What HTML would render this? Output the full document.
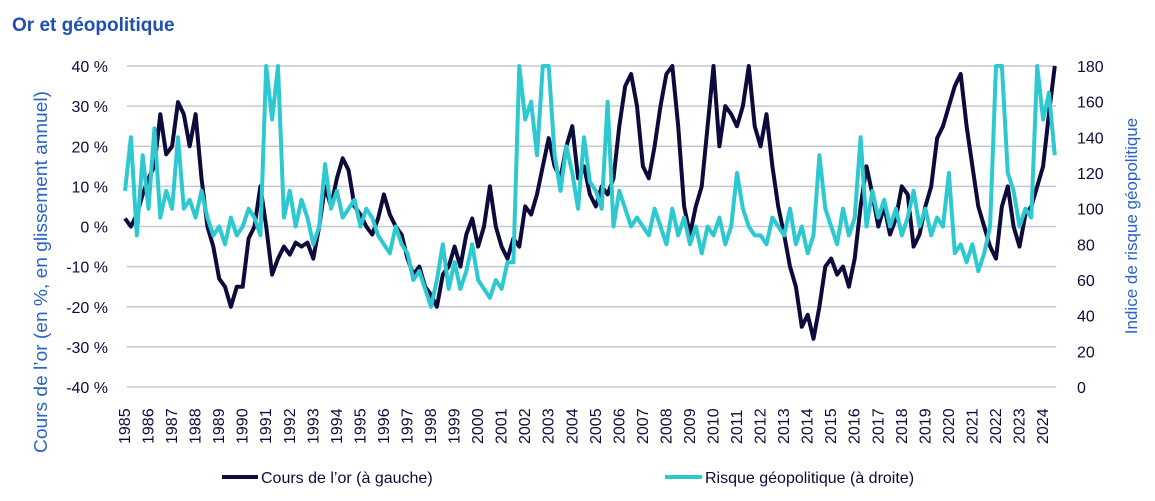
<!DOCTYPE html>
<html><head><meta charset="utf-8"><style>
body{margin:0;background:#fff;width:1155px;height:496px;overflow:hidden;font-family:"Liberation Sans",sans-serif}
svg text{font-family:"Liberation Sans",sans-serif}
</style></head><body>
<svg width="1155" height="496">
<text x="12" y="31" font-size="19" font-weight="bold" fill="#1f4fb4">Or et géopolitique</text>
<g id="grid"></g><g id="series"></g><g id="labels"></g>
<text transform="translate(47,272) rotate(-90)" text-anchor="middle" font-size="18" textLength="362" lengthAdjust="spacingAndGlyphs" fill="#2a62c8">Cours de l’or (en %, en glissement annuel)</text>
<text transform="translate(1137,226) rotate(-90)" text-anchor="middle" font-size="17" fill="#2a62c8">Indice de risque géopolitique</text>
<g><line x1="222" y1="477" x2="258" y2="477" stroke="#0c0b3b" stroke-width="4"/><text x="261" y="483" font-size="16" fill="#0c0b3b">Cours de l’or (à gauche)</text></g>
<g><line x1="665" y1="477" x2="702" y2="477" stroke="#2ec9d0" stroke-width="4"/><text x="705" y="483" font-size="16" fill="#0c0b3b">Risque géopolitique (à droite)</text></g>
</svg>
<script>
const leftTicks=[40,30,20,10,0,-10,-20,-30,-40];
const rightTicks=[0,20,40,60,80,100,120,140,160,180];
const years=[];for(let y=1985;y<=2024;y++)years.push(y);
const gold=[2,0,3,8, 12,15,28,18, 20,31,28,20, 28,12,0,-5, -13,-15,-20,-15, -15,-3,0,10, 0,-12,-8,-5, -7,-4,-5,-4, -8,0,10,5, 12,17,14,5, 3,0,-2,2, 8,3,0,-2, -8,-12,-10,-15, -17,-20,-12,-10, -5,-10,-2,2, -5,0,10,0, -5,-8,-3,-5, 5,3,8,15, 22,15,12,20, 25,12,15,8, 5,10,8,12, 25,35,38,30, 15,12,20,30, 38,40,25,5, -2,5,10,25, 40,20,30,28, 25,30,40,25, 20,28,15,5, -2,-10,-15,-25, -22,-28,-20,-10, -8,-12,-10,-15, -8,5,15,8, 0,5,-2,2, 10,8,-5,-2, 5,10,22,25, 30,35,38,25, 15,5,0,-5, -8,5,10,0, -5,3,5,10, 15,28,40];
const gpr=[110,140,85,130, 100,145,95,110, 100,140,100,105, 95,110,95,85, 90,80,95,85, 90,100,95,85, 200,150,200,95, 110,90,105,95, 80,90,125,100, 110,95,100,105, 90,100,95,85, 80,75,90,80, 75,60,65,55, 45,60,80,55, 70,55,65,80, 60,55,50,60, 55,70,70,200, 150,160,130,180, 200,130,110,135, 120,100,140,115, 110,100,160,90, 110,100,90,95, 90,85,100,90, 80,100,85,95, 80,90,75,90, 85,95,80,90, 120,100,90,85, 85,80,95,90, 85,100,80,90, 75,85,130,100, 90,80,100,85, 95,140,90,110, 95,105,90,100, 85,95,110,90, 100,85,95,90, 120,75,80,70, 80,65,75,90, 200,180,120,110, 90,100,95,180, 150,165,130];
const NS='http://www.w3.org/2000/svg';
const X0=127,X1=1056,YT=66,YB=387;
const xDate=d=>125+(d-1985)*23.54;
const yL=v=>YT+(40-Math.max(-40,Math.min(40,v)))/80*(YB-YT);
const yR=v=>YB-Math.max(0,Math.min(180,v))/180*(YB-YT);
const grid=document.getElementById('grid'),lab=document.getElementById('labels'),ser=document.getElementById('series');
function mk(t,a,p){const e=document.createElementNS(NS,t);for(const k in a)e.setAttribute(k,a[k]);p.appendChild(e);return e;}
leftTicks.forEach(v=>{
 const l=mk('line',{x1:X0,x2:X1,y1:yL(v),y2:yL(v),stroke:'#c3cad3','stroke-width':1.5},grid);
 
 
 const t=mk('text',{x:108,y:yL(v)+6,'text-anchor':'end','font-size':16,fill:'#0c0b3b'},lab);t.textContent=v+' %';
 
 
});
rightTicks.forEach(v=>{
 const t=mk('text',{x:1077,y:yR(v)+6,'font-size':16,fill:'#0c0b3b'},lab);t.textContent=v;
 
 
});
years.forEach(y=>{
 const x=xDate(y)+5;
 const t=mk('text',{transform:`translate(${x},444) rotate(-90)`,'font-size':16,fill:'#0c0b3b'},lab);t.textContent=y;
 
 
});
function line(data,yf,color,name){
 const pts=data.map((v,i)=>xDate(1985+i*0.25).toFixed(1)+','+yf(v).toFixed(1)).join(' ');
 const p=mk('polyline',{points:pts,fill:'none',stroke:color,'stroke-width':4,'stroke-linejoin':'round'},ser);
 
 
}
line(gold,yL,'#0c0b3b','gold-price-line');
line(gpr,yR,'#2ec9d0','geopolitical-risk-line');
</script>
</body></html>
